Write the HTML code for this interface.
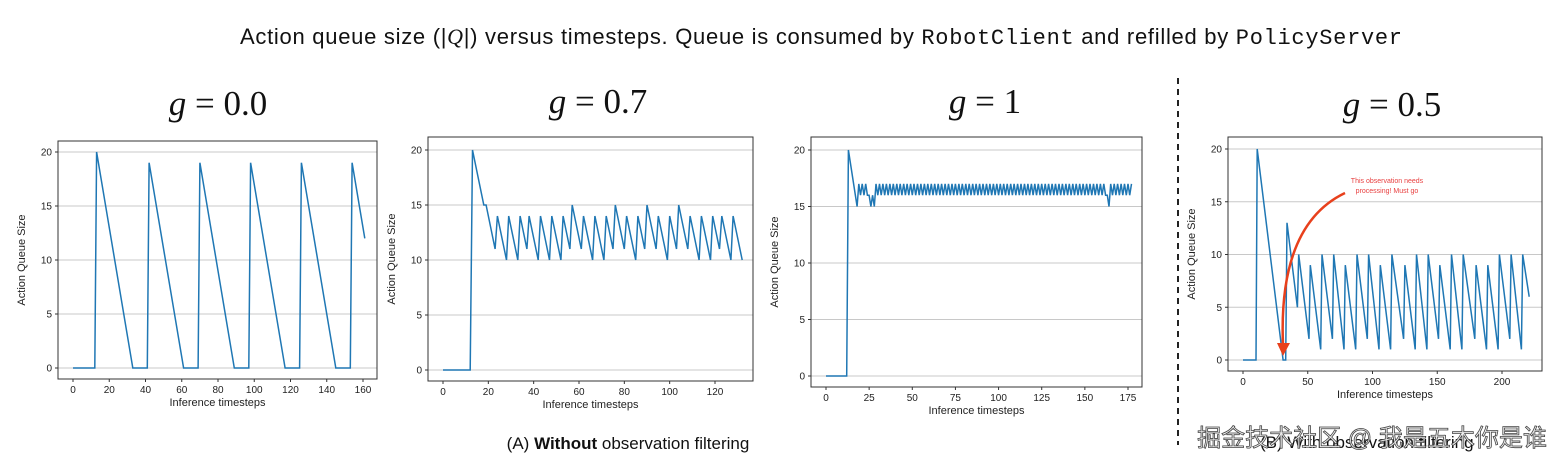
<!DOCTYPE html>
<html><head><meta charset="utf-8"><style>
body{margin:0;background:#fff;width:1567px;height:469px;overflow:hidden;font-family:"Liberation Sans",sans-serif}
</style></head><body>
<svg id="s" width="1567" height="469" xmlns="http://www.w3.org/2000/svg" font-family="Liberation Sans, sans-serif">
<text x="240" y="44" font-size="22" fill="#111" textLength="1162" lengthAdjust="spacing">Action queue size (|<tspan font-family="Liberation Serif" font-style="italic">Q</tspan>|) versus timesteps. Queue is consumed by <tspan font-family="Liberation Mono">RobotClient</tspan> and refilled by <tspan font-family="Liberation Mono">PolicyServer</tspan></text>
<g font-family="Liberation Serif" font-size="35" text-anchor="middle" fill="#111">
<text x="218" y="115"><tspan font-style="italic">g</tspan> = 0.0</text>
<text x="598" y="113"><tspan font-style="italic">g</tspan> = 0.7</text>
<text x="985" y="113"><tspan font-style="italic">g</tspan> = 1</text>
<text x="1392" y="116"><tspan font-style="italic">g</tspan> = 0.5</text>
</g>
<line x1="1178" y1="78" x2="1178" y2="445" stroke="#222" stroke-width="2" stroke-dasharray="6,5"/>
<text x="628" y="449" font-size="17" text-anchor="middle" fill="#111">(A) <tspan font-weight="bold">Without</tspan> observation filtering</text>
<text x="1260" y="448" font-size="17" fill="#111">(B) With observation filtering</text>
<text x="1372" y="446" font-size="24" text-anchor="middle" fill="#eee" stroke="#444" stroke-width="0.8" font-family="Liberation Sans, Noto Sans CJK SC, sans-serif">掘金技术社区 @ 我是五木你是谁</text>
<g id="g"></g>
<path d="M1345,193 Q1278,225 1283,345" fill="none" stroke="#e8401c" stroke-width="2.5"/>
<polygon points="1277,343 1290,343 1283,356" fill="#e8401c"/>
<text x="1387" y="183" font-size="7" fill="#e84040" text-anchor="middle">This observation  needs</text>
<text x="1387" y="193" font-size="7" fill="#e84040" text-anchor="middle">processing! Must go</text>
</svg>
<script>
const G=document.getElementById('g');let h='';
function plot(c){
 const {L,R,T,B,x0p,x1p,x1v,y0p,y20p,ticks,pts}=c;
 const X=v=>x0p+(x1p-x0p)*v/x1v, Y=v=>y0p+(y20p-y0p)*v/20;
 for(let v=0;v<=20;v+=5){const y=Y(v);h+=`<line x1="${L}" x2="${R}" y1="${y}" y2="${y}" stroke="#c8c8c8" stroke-width="1"/>`;
  h+=`<line x1="${L-3}" x2="${L}" y1="${y}" y2="${y}" stroke="#333"/><text x="${L-6}" y="${y+3.5}" font-size="10" text-anchor="end" fill="#222">${v}</text>`;}
 for(const t of ticks){const x=X(t);h+=`<line x1="${x}" x2="${x}" y1="${B}" y2="${B+3}" stroke="#333"/><text x="${x}" y="${B+14}" font-size="10" text-anchor="middle" fill="#222">${t}</text>`;}
 h+=`<rect x="${L}" y="${T}" width="${R-L}" height="${B-T}" fill="none" stroke="#333" stroke-width="1"/>`;
 h+=`<text x="${(L+R)/2}" y="${B+27}" font-size="11" text-anchor="middle" fill="#222">Inference timesteps</text>`;
 const cy=(T+B)/2,cx=L-33;h+=`<text x="${cx}" y="${cy}" font-size="11" text-anchor="middle" fill="#222" transform="rotate(-90 ${cx} ${cy})">Action Queue Size</text>`;
 h+=`<polyline fill="none" stroke="#1f77b4" stroke-width="1.5" points="${pts.map(p=>X(p[0]).toFixed(1)+','+Y(p[1]).toFixed(1)).join(' ')}"/>`;
}
let p1=[[0,0],[12,0],[13,20],[33,0],[41,0]];
[42,70,98,126].forEach(t=>{p1.push([t,19],[t+19,0],[t+27,0]);});
p1.push([154,19],[161,12]);
plot({L:58,R:377,T:141,B:379,x0p:73,x1p:363,x1v:160,y0p:368,y20p:152,ticks:[0,20,40,60,80,100,120,140,160],pts:p1});
let p2=[[0,0],[12,0],[13,20],[18,15],[19,15],[23,11]];
const pk2=[24,29,34,38,43,48,53,57,62,67,72,76,81,86,90,95,100,104,109,114,119,123,128];
const pv2={57:15,76:15,90:15,104:15};
pk2.forEach((t,i)=>{const v=pv2[t]||14;p2.push([t,v]);const n=pk2[i+1];if(n)p2.push([n-1,v-(n-1-t)]);else p2.push([132,10]);});
plot({L:428,R:753,T:137,B:381,x0p:443,x1p:715,x1v:120,y0p:370,y20p:150,ticks:[0,20,40,60,80,100,120],pts:p2});
let p3=[[0,0],[12,0],[13,20],[18,15],[19,17],[20,16],[21,17],[22,16],[23,17],[24,16],[25,16],[26,15],[27,16],[28,15]];
for(let t=29;t<=177;t++){let v=(t%2)?17:16;if(t==162)v=16;if(t==163)v=16;if(t==164)v=15;p3.push([t,v]);}
plot({L:811,R:1142,T:137,B:387,x0p:826,x1p:1128,x1v:175,y0p:376,y20p:150,ticks:[0,25,50,75,100,125,150,175],pts:p3});
let p4=[[0,0],[10,0],[11,20],[31,0],[33,0]];
const pk4=[[34,13],[43,10],[52,9],[61,10],[70,10],[79,9],[88,10],[97,10],[106,9],[115,10],[125,9],[134,10],[143,10],[152,9],[161,10],[170,10],[180,9],[189,9],[198,10],[207,10],[216,10]];
const tr4=[5,2,1,2,1,1,2,1,1,2,1,1,2,1,1,2,1,1,2,1];
pk4.forEach((p,i)=>{p4.push(p);const n=pk4[i+1];if(n)p4.push([n[0]-1,tr4[i]]);else p4.push([221,6]);});
plot({L:1228,R:1542,T:137,B:371,x0p:1243,x1p:1502,x1v:200,y0p:360,y20p:149,ticks:[0,50,100,150,200],pts:p4});
G.innerHTML=h;
</script>
</body></html>
